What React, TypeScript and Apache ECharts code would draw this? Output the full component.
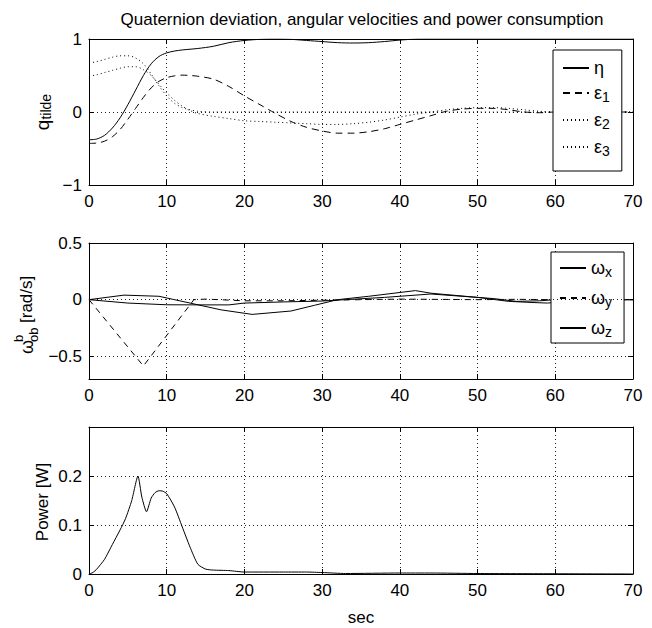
import React, { useEffect, useRef } from 'react';
import * as echarts from 'echarts';

const FONT = "'Liberation Sans', Arial, Helvetica, sans-serif";

// ---------- data ----------
const xTickStep = 10;
const qTime = [0, 1, 2, 3, 4, 5, 6, 7, 8, 9, 10, 11, 12, 13, 14, 16, 18, 20, 22, 24, 26, 28, 30, 32, 34, 36, 38, 40, 42, 44, 46, 48, 50, 52, 54, 56, 58, 60, 62, 64, 66, 68, 70];
const eta = [-0.38, -0.37, -0.32, -0.22, -0.08, 0.1, 0.3, 0.5, 0.66, 0.76, 0.81, 0.835, 0.85, 0.86, 0.87, 0.9, 0.95, 0.98, 0.995, 1.0, 0.995, 0.98, 0.965, 0.95, 0.945, 0.95, 0.965, 0.985, 0.998, 1, 1, 1, 1, 1, 1, 1, 1, 1, 1, 1, 1, 1, 1];
const eps1 = [-0.43, -0.425, -0.4, -0.34, -0.24, -0.1, 0.05, 0.2, 0.33, 0.42, 0.47, 0.495, 0.505, 0.5, 0.49, 0.45, 0.35, 0.22, 0.1, -0.02, -0.13, -0.21, -0.26, -0.29, -0.29, -0.27, -0.23, -0.17, -0.11, -0.05, 0.01, 0.04, 0.05, 0.05, 0.03, 0.0, -0.01, 0, 0, 0, 0, 0, 0];
const eps2 = [0.67, 0.69, 0.72, 0.75, 0.77, 0.77, 0.74, 0.66, 0.52, 0.36, 0.22, 0.12, 0.06, 0.03, 0.01, 0, 0, 0, 0, 0, 0, 0, 0, 0, 0, 0, 0, 0, 0, 0, 0, 0, 0, 0, 0, 0, 0, 0, 0, 0, 0, 0, 0];
const eps3 = [0.49, 0.51, 0.54, 0.57, 0.6, 0.62, 0.62, 0.58, 0.5, 0.38, 0.26, 0.16, 0.08, 0.02, -0.02, -0.06, -0.09, -0.12, -0.13, -0.14, -0.15, -0.16, -0.17, -0.17, -0.16, -0.14, -0.11, -0.07, -0.03, 0.0, 0.03, 0.05, 0.06, 0.06, 0.05, 0.03, 0.01, 0, 0, 0, 0, 0, 0];

const wxTime = [0, 4.5, 9, 13, 17, 21, 26, 29, 32, 36, 42, 44, 50, 54, 57, 59, 62, 70];
const wx = [0, 0.04, 0.03, -0.03, -0.09, -0.13, -0.1, -0.05, 0, 0.03, 0.08, 0.057, 0.02, -0.015, -0.025, -0.03, -0.01, 0];
const wyTime = [0, 7, 13.5, 15, 20, 25, 30, 40, 50, 55, 60, 70];
const wy = [0, -0.585, 0, 0.005, -0.01, -0.01, -0.005, 0.005, 0, 0.003, 0, 0];
const wzTime = [0, 5, 10, 14, 18, 20, 25, 30, 33, 38, 44, 48, 52, 55, 58, 60, 70];
const wz = [0, -0.03, -0.045, -0.046, -0.046, -0.03, -0.02, -0.012, 0, 0.02, 0.05, 0.03, 0.01, -0.015, -0.01, 0, 0];

const pTime = [0, 0.5, 1, 2, 3, 4, 4.7, 5.5, 6.3, 6.8, 7.4, 8, 8.5, 9, 9.5, 10, 11, 12, 13, 14, 15, 16, 18, 20, 25, 28, 30, 33, 40, 44, 50, 60, 70];
const power = [0, 0.003, 0.01, 0.03, 0.06, 0.09, 0.113, 0.15, 0.2, 0.157, 0.127, 0.155, 0.166, 0.17, 0.169, 0.164, 0.137, 0.096, 0.055, 0.02, 0.01, 0.008, 0.007, 0.004, 0.004, 0.004, 0.003, 0.001, 0.002, 0.002, 0.001, 0.0005, 0];

const qNames = ['η', 'ε1', 'ε2', 'ε3'];
const wNames = ['ωx', 'ωy', 'ωz'];
const midTicks = [-0.5, 0, 0.5];
const midGridLines = [-0.5, 0];

const pairs = (t: number[], v: number[]) => t.map((x, i) => [x, v[i]]);
const fmtNum = (v: number) => String(Math.round(v * 10) / 10).replace('-', '−');

export default function App() {
  const ref = useRef<HTMLDivElement>(null);
  useEffect(() => {
    if (!ref.current) return;
    const chart = echarts.init(ref.current, undefined, { renderer: 'svg' });
    const grids = [
      { left: 89, right: 19, top: 39, height: 146 },
      { left: 89, right: 19, top: 243, height: 136 },
      { left: 89, right: 19, top: 427, height: 147 },
    ];
    const yCfg: any[] = [
      { min: -1, max: 1, interval: 1 },
      { min: -0.7, max: 0.5 },
      { min: 0, max: 0.3, interval: 0.1 },
    ];
    const dotted = { color: '#222', type: [1, 3], width: 1 };
    const axisLine = { show: true, onZero: false, lineStyle: { color: '#000', width: 1 } };
    const tick = { show: true, inside: true, length: 5, lineStyle: { color: '#000', width: 1 } };
    const labelStyle = { color: '#000', fontSize: 17, fontFamily: FONT };

    const xAxis: any[] = [];
    const yAxis: any[] = [];
    grids.forEach((_, i) => {
      xAxis.push({
        type: 'value', gridIndex: i, min: 0, max: 70, interval: xTickStep, position: 'bottom',
        axisLine, axisTick: tick,
        axisLabel: { ...labelStyle, margin: 8 },
        splitLine: { show: true, lineStyle: dotted },
      });
      xAxis.push({
        type: 'value', gridIndex: i, min: 0, max: 70, interval: xTickStep, position: 'top',
        axisLine, axisTick: tick, axisLabel: { show: false }, splitLine: { show: false },
      });
      const yc = yCfg[i];
      const left: any = {
        type: 'value', gridIndex: i, min: yc.min, max: yc.max, position: 'left',
        axisLine, axisTick: { ...tick },
        axisLabel: {
          ...labelStyle, margin: 7,
          formatter: (v: number) => (i === 2 && v > 0.25 ? '' : fmtNum(v)),
        },
        splitLine: { show: i !== 1, lineStyle: dotted },
      };
      const right: any = {
        type: 'value', gridIndex: i, min: yc.min, max: yc.max, position: 'right',
        axisLine, axisTick: { ...tick }, axisLabel: { show: false }, splitLine: { show: false },
      };
      if (yc.interval) {
        left.interval = yc.interval;
        right.interval = yc.interval;
      } else {
        left.axisLabel.customValues = midTicks;
        left.axisTick.customValues = midTicks;
        right.axisTick.customValues = midTicks;
      }
      yAxis.push(left, right);
    });

    const line = (name: string, data: any[], gi: number, type: any, smooth: any, extra: any = {}) => ({
      name, type: 'line', data, xAxisIndex: gi * 2, yAxisIndex: gi * 2,
      showSymbol: false, symbol: 'none', smooth, silent: true,
      lineStyle: { color: '#000', width: 1, type },
      itemStyle: { color: '#000' },
      ...extra,
    });

    const rich = {
      m: { fontSize: 18, lineHeight: 22, fontFamily: FONT, color: '#000' },
      s: { fontSize: 14, lineHeight: 12, verticalAlign: 'bottom', fontFamily: FONT, color: '#000' },
    };
    const legendFmt = (n: string) => (n.length > 1 ? `{m|${n[0]}}{s|${n.slice(1)}}` : `{m|${n}}`);
    const legendBase = {
      orient: 'vertical', itemWidth: 26, itemHeight: 14, itemGap: 7,
      borderColor: '#000', borderWidth: 1, backgroundColor: '#fff', borderRadius: 0,
      selectedMode: false, formatter: legendFmt, textStyle: { rich, color: '#000' },
      itemStyle: { opacity: 0 },
    };

    const option: any = {
      animation: false,
      backgroundColor: '#fff',
      grid: grids,
      xAxis, yAxis,
      legend: [
        { ...legendBase, data: qNames, left: 553, top: 50, padding: [9, 12, 13, 9] },
        { ...legendBase, data: wNames, left: 551, top: 252, itemGap: 10, padding: [7, 12, 4, 8] },
      ],
      series: [
        line(qNames[0], pairs(qTime, eta), 0, 'solid', 0.3),
        line(qNames[1], pairs(qTime, eps1), 0, [7, 5], 0.3),
        line(qNames[2], pairs(qTime, eps2), 0, [1, 3], 0.3),
        line(qNames[3], pairs(qTime, eps3), 0, [1, 3], 0.3),
        line(wNames[0], pairs(wxTime, wx), 1, 'solid', false),
        line(wNames[1], pairs(wyTime, wy), 1, [6, 5], false, {
          markLine: {
            silent: true, symbol: ['none', 'none'], label: { show: false },
            lineStyle: { ...dotted }, emphasis: { disabled: true },
            data: midGridLines.map((v) => ({ yAxis: v })),
          },
        }),
        line(wNames[2], pairs(wzTime, wz), 1, 'solid', false),
        line('Power', pairs(pTime, power), 2, 'solid', 0.2),
      ],
      graphic: [
        {
          type: 'text', x: 362, y: 19,
          style: { text: 'Quaternion deviation, angular velocities and power consumption', fontSize: 17, fontFamily: FONT, fill: '#000', align: 'center', verticalAlign: 'middle' },
        },
        {
          type: 'text', x: 361, y: 617,
          style: { text: 'sec', fontSize: 17, fontFamily: FONT, fill: '#000', align: 'center', verticalAlign: 'middle' },
        },
        {
          type: 'group', x: 42, y: 112, rotation: Math.PI / 2,
          children: [{
            type: 'text',
            style: {
              text: '{m|q}{s|tilde}', align: 'center', verticalAlign: 'middle',
              rich: { m: { fontSize: 19, lineHeight: 22, fontFamily: FONT, fill: '#000' }, s: { fontSize: 14, lineHeight: 12, verticalAlign: 'bottom', fontFamily: FONT, fill: '#000' } },
            },
          }],
        },
        {
          type: 'group', x: 42, y: 502, rotation: Math.PI / 2,
          children: [{
            type: 'text',
            style: { text: 'Power [W]', fontSize: 17, fontFamily: FONT, fill: '#000', align: 'center', verticalAlign: 'middle' },
          }],
        },
        {
          type: 'group', x: 27, y: 354, rotation: Math.PI / 2,
          children: [
            { type: 'text', x: 0, y: 0, style: { text: 'ω', fontSize: 18, fontFamily: FONT, fill: '#000', align: 'left', verticalAlign: 'middle' } },
            { type: 'text', x: 12, y: -9, style: { text: 'b', fontSize: 13, fontFamily: FONT, fill: '#000', align: 'left', verticalAlign: 'middle' } },
            { type: 'text', x: 12, y: 6, style: { text: 'ob', fontSize: 13, fontFamily: FONT, fill: '#000', align: 'left', verticalAlign: 'middle' } },
            { type: 'text', x: 31, y: -1, style: { text: '[rad/s]', fontSize: 17, fontFamily: FONT, fill: '#000', align: 'left', verticalAlign: 'middle' } },
          ],
        },
      ],
    };
    chart.setOption(option);
    return () => chart.dispose();
  }, []);
  return <div ref={ref} style={{ position: 'fixed', left: 0, top: 0, width: 652, height: 628 }} />;
}
